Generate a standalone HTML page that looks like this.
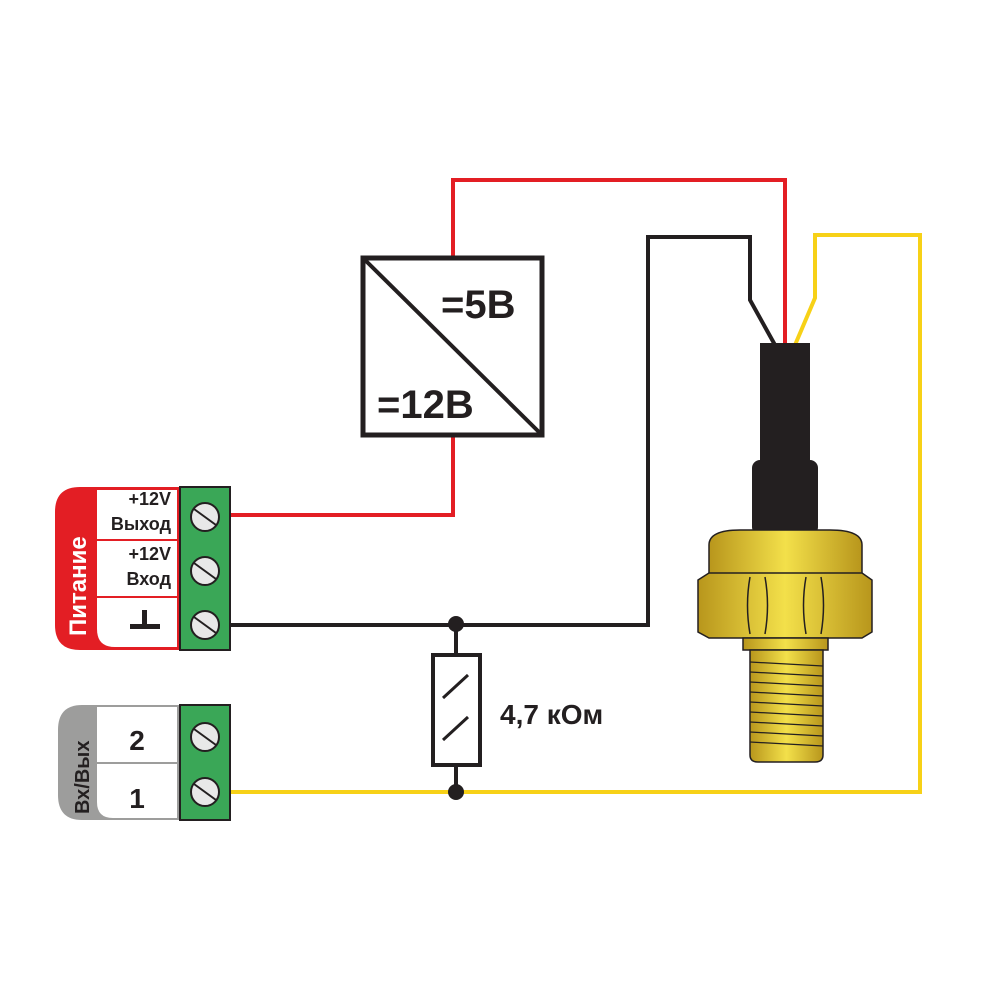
<!DOCTYPE html>
<html><head><meta charset="utf-8"><style>
html,body{margin:0;padding:0;background:#fff}
svg{display:block}
text{font-family:"Liberation Sans",sans-serif;font-weight:bold;fill:#231f20}
</style></head><body>
<svg width="1000" height="1000" viewBox="0 0 1000 1000" xmlns="http://www.w3.org/2000/svg">
<defs>
<linearGradient id="g" x1="0" x2="1" y1="0" y2="0">
<stop offset="0" stop-color="#b8961c"/><stop offset="0.5" stop-color="#f3e04a"/><stop offset="1" stop-color="#b8961c"/>
</linearGradient>
</defs>
<polyline points="230,515 453,515 453,435" fill="none" stroke="#e31e24" stroke-width="4"/>
<polyline points="453,258 453,180 785,180 785,345" fill="none" stroke="#e31e24" stroke-width="4"/>
<polyline points="230,625 648,625 648,237 750,237 750,300 775,345" fill="none" stroke="#231f20" stroke-width="4"/>
<polyline points="230,792 920,792 920,235 815,235 815,298 795,345" fill="none" stroke="#f7d117" stroke-width="4"/>
<rect x="363" y="258" width="179" height="177" fill="#fff" stroke="#231f20" stroke-width="5"/>
<line x1="363" y1="258" x2="542" y2="435" stroke="#231f20" stroke-width="4"/>
<text x="441" y="318" font-size="40">=5B</text>
<text x="377" y="418" font-size="40">=12B</text>
<line x1="456" y1="624" x2="456" y2="792" stroke="#231f20" stroke-width="4"/>
<rect x="433" y="655" width="47" height="110" fill="#fff" stroke="#231f20" stroke-width="4"/>
<line x1="443" y1="698" x2="468" y2="675" stroke="#231f20" stroke-width="3"/>
<line x1="443" y1="740" x2="468" y2="717" stroke="#231f20" stroke-width="3"/>
<circle cx="456" cy="624" r="8" fill="#231f20"/>
<circle cx="456" cy="792" r="8" fill="#231f20"/>
<text x="500" y="724" font-size="28">4,7 кОм</text>
<rect x="760" y="343" width="50" height="190" fill="#231f20"/>
<rect x="752" y="460" width="66" height="75" rx="8" fill="#231f20"/>
<path d="M709,545 Q709,530 740,530 L830,530 Q862,530 862,545 L862,578 L709,578 Z" fill="url(#g)" stroke="#231f20" stroke-width="1.5"/>
<path d="M698,580 L709,573 L862,573 L872,580 L872,632 L862,638 L709,638 L698,632 Z" fill="url(#g)" stroke="#231f20" stroke-width="1.5"/>
<path d="M750,577 Q745,605 750,634 M765,577 Q770,605 765,634 M806,577 Q801,605 806,634 M821,577 Q826,605 821,634" fill="none" stroke="#231f20" stroke-width="1.5"/>
<rect x="743" y="638" width="85" height="12" fill="url(#g)" stroke="#231f20" stroke-width="1.5"/>
<path d="M750,650 L823,650 L823,755 Q823,762 815,762 L758,762 Q750,762 750,755 Z" fill="url(#g)" stroke="#231f20" stroke-width="1.5"/>
<g stroke="#231f20" stroke-width="1.2">
<line x1="750" y1="662" x2="823" y2="666"/><line x1="750" y1="672" x2="823" y2="676"/><line x1="750" y1="682" x2="823" y2="686"/><line x1="750" y1="692" x2="823" y2="696"/><line x1="750" y1="702" x2="823" y2="706"/><line x1="750" y1="712" x2="823" y2="716"/><line x1="750" y1="722" x2="823" y2="726"/><line x1="750" y1="732" x2="823" y2="736"/><line x1="750" y1="742" x2="823" y2="746"/>
</g>
<path d="M95,487 L80,487 Q55,487 55,512 L55,625 Q55,650 80,650 L95,650 Z" fill="#e31e24"/>
<rect x="93" y="487" width="87" height="163" fill="#e31e24"/>
<path d="M97,490 L177,490 L177,647 L115,647 Q97,647 97,629 Z" fill="#fff"/>
<line x1="97" y1="540" x2="178" y2="540" stroke="#e31e24" stroke-width="2"/>
<line x1="97" y1="597" x2="178" y2="597" stroke="#e31e24" stroke-width="2"/>
<text transform="translate(86,636) rotate(-90)" font-size="24" style="fill:#fff">Питание</text>
<text x="171" y="505" font-size="18" text-anchor="end">+12V</text>
<text x="171" y="530" font-size="18" text-anchor="end">Выход</text>
<text x="171" y="560" font-size="18" text-anchor="end">+12V</text>
<text x="171" y="585" font-size="18" text-anchor="end">Вход</text>
<rect x="130" y="624" width="30" height="5" fill="#231f20"/><rect x="142" y="610" width="5" height="18" fill="#231f20"/>
<rect x="180" y="487" width="50" height="163" fill="#3aa757" stroke="#231f20" stroke-width="2"/>
<path d="M95,705 L82,705 Q58,705 58,730 L58,795 Q58,820 82,820 L95,820 Z" fill="#9d9d9c"/>
<rect x="93" y="705" width="87" height="115" fill="#9d9d9c"/>
<path d="M97,707 L177,707 L177,818 L113,818 Q97,818 97,802 Z" fill="#fff"/>
<line x1="97" y1="763" x2="178" y2="763" stroke="#9d9d9c" stroke-width="2"/>
<text transform="translate(89,814) rotate(-90)" font-size="20">Вх/Вых</text>
<text x="137" y="750" font-size="28" text-anchor="middle">2</text>
<text x="137" y="808" font-size="28" text-anchor="middle">1</text>
<rect x="180" y="705" width="50" height="115" fill="#3aa757" stroke="#231f20" stroke-width="2"/>
<g fill="#e8e8e8" stroke="#231f20" stroke-width="2">
<circle cx="205" cy="517" r="14"/><circle cx="205" cy="571" r="14"/><circle cx="205" cy="625" r="14"/>
<circle cx="205" cy="737" r="14"/><circle cx="205" cy="792" r="14"/>
</g>
<g stroke="#231f20" stroke-width="2">
<line x1="194" y1="509" x2="216" y2="525"/><line x1="194" y1="563" x2="216" y2="579"/><line x1="194" y1="617" x2="216" y2="633"/>
<line x1="194" y1="729" x2="216" y2="745"/><line x1="194" y1="784" x2="216" y2="800"/>
</g>
</svg>
</body></html>
